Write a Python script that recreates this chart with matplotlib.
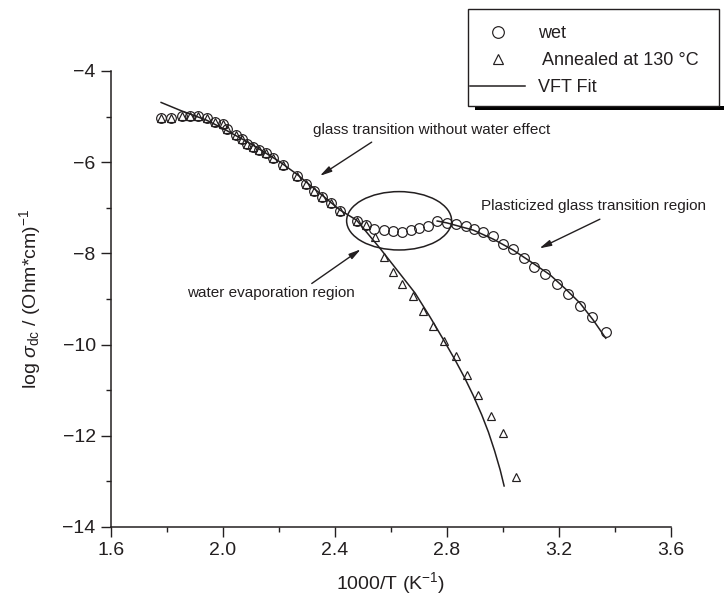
import matplotlib
matplotlib.use('Agg')
from matplotlib import pyplot as plt
from matplotlib.patches import Ellipse, Rectangle

plt.rcParams['font.family'] = ['Liberation Sans', 'DejaVu Sans']
plt.rcParams['mathtext.fontset'] = 'custom'
plt.rcParams['mathtext.rm'] = 'Liberation Sans'
plt.rcParams['mathtext.it'] = 'Liberation Sans:italic'

# wet sample
wet_x = [1.777, 1.814, 1.852, 1.882, 1.912, 1.942, 1.971, 1.999, 2.015, 2.045,
         2.067, 2.087, 2.108, 2.130, 2.154, 2.180, 2.215, 2.263, 2.296, 2.326,
         2.352, 2.385, 2.418, 2.480, 2.511, 2.539, 2.575, 2.606, 2.638, 2.671,
         2.701, 2.733, 2.765, 2.799, 2.832, 2.867, 2.898, 2.930, 2.966, 3.001,
         3.037, 3.075, 3.112, 3.150, 3.192, 3.233, 3.275, 3.319, 3.367]
wet_y = [-5.04, -5.02, -4.99, -4.99, -4.99, -5.04, -5.11, -5.16, -5.28, -5.40,
         -5.49, -5.60, -5.67, -5.73, -5.80, -5.90, -6.06, -6.30, -6.48, -6.63,
         -6.76, -6.90, -7.06, -7.30, -7.38, -7.47, -7.49, -7.50, -7.52, -7.49,
         -7.45, -7.41, -7.30, -7.34, -7.36, -7.41, -7.46, -7.54, -7.62, -7.79,
         -7.90, -8.09, -8.29, -8.45, -8.67, -8.88, -9.15, -9.39, -9.72]

# annealed at 130 C
ann_x = [1.777, 1.814, 1.852, 1.882, 1.912, 1.942, 1.971, 1.999, 2.015, 2.045,
         2.067, 2.087, 2.108, 2.130, 2.154, 2.180, 2.215, 2.263, 2.296, 2.326,
         2.352, 2.385, 2.418, 2.480, 2.511, 2.543, 2.575, 2.608, 2.641, 2.677,
         2.715, 2.751, 2.790, 2.831, 2.870, 2.912, 2.956, 3.001, 3.045]
ann_y = [-5.04, -5.02, -4.99, -4.99, -4.99, -5.04, -5.11, -5.16, -5.28, -5.40,
         -5.49, -5.60, -5.67, -5.73, -5.80, -5.90, -6.06, -6.30, -6.48, -6.63,
         -6.76, -6.90, -7.06, -7.30, -7.38, -7.65, -8.08, -8.40, -8.68, -8.93,
         -9.26, -9.59, -9.92, -10.24, -10.67, -11.11, -11.56, -11.93, -12.90]

# VFT fits
fit1_x = [1.779, 1.85, 1.942, 2.0, 2.1, 2.2, 2.263, 2.418, 2.477, 2.561,
          2.686, 2.74, 2.790, 2.831, 2.864, 2.894, 2.924, 2.948, 2.97, 2.99, 3.004]
fit1_y = [-4.69, -4.87, -5.08, -5.26, -5.60, -5.98, -6.26, -7.05, -7.27, -7.89,
          -8.87, -9.40, -9.92, -10.36, -10.74, -11.12, -11.54, -11.92, -12.33, -12.75, -13.10]
fit2_x = [2.765, 2.799, 2.894, 2.966, 3.037, 3.108, 3.168, 3.227, 3.275, 3.322, 3.367]
fit2_y = [-7.29, -7.33, -7.49, -7.69, -7.93, -8.22, -8.47, -8.80, -9.09, -9.46, -9.86]

W, H = 724, 607
fig = plt.figure(figsize=(W / 100, H / 100), dpi=100)
ax = fig.add_axes([111 / W, 1 - 527 / H, 560 / W, 456 / H])

ink = '#231f20'
ax.plot(wet_x, wet_y, 'o', ms=7, mfc='none', mec=ink, mew=0.85, label='wet')
ax.plot(ann_x, ann_y, '^', ms=6, mfc='none', mec=ink, mew=0.85, label=' Annealed at 130 \u00b0C')
ax.plot(fit1_x, fit1_y, '-', color=ink, lw=1.1, label='VFT Fit')
ax.plot(fit2_x, fit2_y, '-', color=ink, lw=1.1)

ax.add_patch(Ellipse((2.629, -7.285), 0.375, 1.28, fill=False, ec=ink, lw=1.1))

arrow = dict(arrowstyle='-|>,head_width=0.18,head_length=0.7', color=ink, lw=1, shrinkA=0, shrinkB=0)
ax.annotate('', xy=(2.346, -6.30), xytext=(2.531, -5.56), arrowprops=arrow)
ax.text(2.321, -5.29, 'glass transition without water effect', fontsize=11, color=ink, va='center')
ax.annotate('', xy=(3.130, -7.89), xytext=(3.346, -7.25), arrowprops=arrow)
ax.text(2.920, -6.96, 'Plasticized glass transition region', fontsize=11, color=ink, va='center')
ax.annotate('', xy=(2.492, -7.91), xytext=(2.317, -8.66), arrowprops=arrow)
ax.text(1.870, -8.875, 'water evaporation region', fontsize=11, color=ink, va='center')

ax.set_xlim(1.6, 3.6)
ax.set_ylim(-14, -4)
ax.set_xticks([1.6, 2.0, 2.4, 2.8, 3.2, 3.6])
ax.set_xticks([1.8, 2.2, 2.6, 3.0, 3.4], minor=True)
ax.set_yticks([-14, -12, -10, -8, -6, -4])
ax.set_yticks([-13, -11, -9, -7, -5], minor=True)
ax.set_xticklabels(['1.6', '2.0', '2.4', '2.8', '3.2', '3.6'])
ax.set_yticklabels(['\u221214', '\u221212', '\u221210', '\u22128', '\u22126', '\u22124'])
ax.spines['top'].set_visible(False)
ax.spines['right'].set_visible(False)
for s in ('left', 'bottom'):
    ax.spines[s].set_color(ink)
    ax.spines[s].set_linewidth(1.1)
ax.tick_params(which='major', length=7, width=1, color=ink, labelsize=14, labelcolor=ink, pad=4)
ax.tick_params(which='minor', length=3.5, width=1, color=ink)

ax.set_xlabel('1000/T (K$^{-1}$)', fontsize=14, color=ink, labelpad=8)
ax.set_ylabel(r'log $\sigma_{\rm dc}$ / (Ohm*cm)$^{-1}$', fontsize=14, color=ink, labelpad=14)

# legend box with shadow bar along the bottom
fig.patches.append(Rectangle((475 / W, 1 - 110 / H), (W - 475) / W, 4 / H,
                             transform=fig.transFigure, fc='black', ec='none', zorder=1))
fig.patches.append(Rectangle((468 / W, 1 - 106 / H), 251 / W, 97 / H,
                             transform=fig.transFigure, fc='white', ec=ink, lw=1, zorder=2))
leg = fig.legend(loc='upper left', bbox_to_anchor=(470 / W, 1 - 25 / H), frameon=False,
                 fontsize=13, handlelength=3.05, handletextpad=0.7, borderpad=0,
                 labelspacing=0.55, borderaxespad=0, labelcolor=ink, markerscale=1.2)

fig.savefig('out.png', dpi=100)
